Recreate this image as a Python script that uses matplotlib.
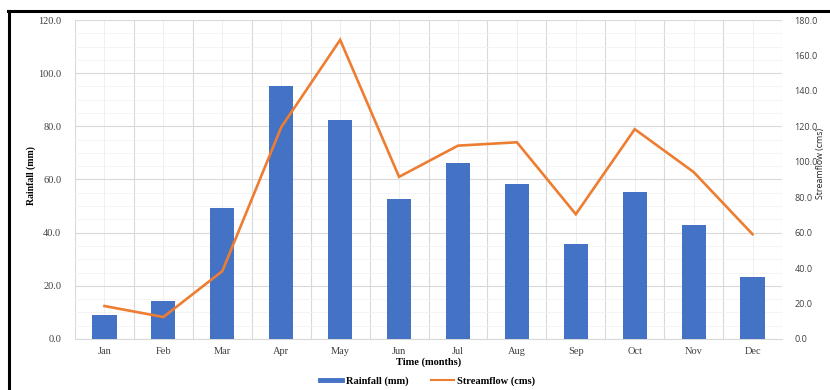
import matplotlib
matplotlib.use("Agg")
import matplotlib.pyplot as plt
from matplotlib.lines import Line2D
from matplotlib.ticker import MultipleLocator, FixedLocator
import numpy as np

months = ["Jan", "Feb", "Mar", "Apr", "May", "Jun", "Jul", "Aug", "Sep", "Oct", "Nov", "Dec"]
rainfall_mm = [9.1, 14.3, 49.1, 95.3, 82.3, 52.5, 66.3, 58.4, 35.6, 55.4, 42.7, 23.3]
streamflow_cms = [18.6, 12.4, 38.3, 119.5, 168.8, 91.5, 109.1, 111.0, 70.4, 118.4, 94.2, 59.1]

rain_ticks = [0, 20, 40, 60, 80, 100, 120]
flow_ticks = [0, 20, 40, 60, 80, 100, 120, 140, 160, 180]

BLUE = "#4472C4"
ORANGE = "#ED7D31"
SERIF = ["Liberation Serif", "DejaVu Serif"]
SANS = ["Open Sans", "DejaVu Sans"]

fig = plt.figure(figsize=(8.3, 3.9), dpi=100)
ax = fig.add_axes([0.0904, 0.1308, 0.8518, 0.8179])
ax2 = ax.twinx()

x = np.arange(len(months))
ax.bar(x, rainfall_mm, width=0.41, color=BLUE, zorder=3)
ax2.plot(x, streamflow_cms, color=ORANGE, lw=1.9, zorder=4, solid_joinstyle="miter")

ax.set_xlim(-0.5, len(months) - 0.5)
ax.set_ylim(0, 120)
ax2.set_ylim(0, 180)

# gridlines: category boundaries and centres, major/minor horizontal lines
ax.set_xticks(x)
ax.set_xticklabels(months, fontfamily=SERIF, fontsize=7.5, color="#404040")
ax.xaxis.set_minor_locator(FixedLocator(np.arange(-0.5, len(months), 1.0)))
ax.yaxis.set_major_locator(FixedLocator(rain_ticks))
ax.yaxis.set_minor_locator(MultipleLocator(5))
ax.set_yticklabels([f"{v:.1f}" for v in rain_ticks], fontfamily=SERIF, fontsize=7.5, color="#404040")
ax.grid(True, which="major", axis="y", color="#d9d9d9", lw=0.8, zorder=0)
ax.grid(True, which="minor", axis="y", color="#f2f2f2", lw=0.6, zorder=0)
ax.grid(True, which="major", axis="x", color="#efefef", lw=0.7, zorder=0)
ax.grid(True, which="minor", axis="x", color="#d9d9d9", lw=0.8, zorder=0)
ax.set_axisbelow(True)

ax2.yaxis.set_major_locator(FixedLocator(flow_ticks))
ax2.set_yticklabels([f"{v:.1f}" for v in flow_ticks], fontfamily=SANS, fontsize=6.5, color="#404040")

for a in (ax, ax2):
    a.tick_params(which="both", length=0)
    for s in ("top", "left", "right"):
        a.spines[s].set_visible(False)
ax.spines["bottom"].set_color("#d9d9d9")
ax2.spines["bottom"].set_visible(False)
ax.tick_params(axis="y", pad=10)
ax.tick_params(axis="x", pad=6)
ax2.tick_params(axis="y", pad=9)

ax.set_xlabel("Time (months)", fontfamily=SERIF, fontsize=7.5, fontweight="bold", labelpad=1)
fig.text(0.037, 0.55, "Rainfall (mm)", rotation=90, ha="center", va="center",
         fontfamily=SERIF, fontsize=7, fontweight="bold", fontstretch="condensed")
fig.text(0.989, 0.58, "Streamflow (cms)", rotation=90, ha="center", va="center",
         fontfamily=SANS, fontsize=6.3, color="#222222")

handles = [Line2D([], [], color=BLUE, lw=3.5), Line2D([], [], color=ORANGE, lw=1.5)]
fig.legend(handles, ["Rainfall (mm)", "Streamflow (cms)"], loc="center",
           bbox_to_anchor=(0.515, 0.022), ncol=2, frameon=False, handlelength=2.2,
           handletextpad=0.3, columnspacing=2.2,
           prop={"family": SERIF, "size": 7.5, "weight": "bold"})

# page frame around the figure
fig.add_artist(Line2D([0.0105, 0.0105], [0.0, 0.972], color="black", lw=2.2, transform=fig.transFigure))
fig.add_artist(Line2D([0.0095, 1.0], [0.971, 0.971], color="black", lw=2.2, transform=fig.transFigure))

fig.savefig("out.png", dpi=100, facecolor="white")
